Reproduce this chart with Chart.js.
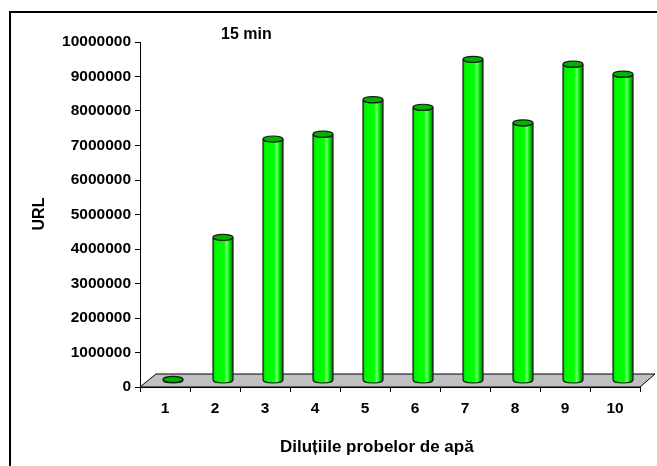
<!DOCTYPE html>
<html>
<head>
<meta charset="utf-8">
<script src="https://cdn.jsdelivr.net/npm/chart.js@4.4.0/dist/chart.umd.min.js"></script>
<style>
  html, body { margin: 0; padding: 0; background: #fff; }
</style>
</head>
<body>
<canvas id="grafic" width="657" height="466"></canvas>
<script>
// date citite pentru 15 min
const dilutii = ['1', '2', '3', '4', '5', '6', '7', '8', '9', '10'];
const valori = [30000, 4150000, 7000000, 7140000, 8140000, 7920000, 9310000, 7470000, 9170000, 8880000];
const ticksURL = [0, 1000000, 2000000, 3000000, 4000000, 5000000, 6000000, 7000000, 8000000, 9000000, 10000000];
const titlu = '15 min';
const titluX = 'Diluțiile probelor de apă';
const titluY = 'URL';

const font = '"Liberation Sans", Arial, sans-serif';
const fontBold = { family: font, size: 15.5, weight: 'bold' };

// podeaua 3D si cilindrii
const cilindri = {
  id: 'cilindri',
  beforeDraw(chart) {
    const ctx = chart.ctx;
    ctx.save();
    ctx.fillStyle = '#fff';
    ctx.fillRect(0, 0, chart.width, chart.height);
    ctx.strokeStyle = '#000';
    ctx.lineWidth = 2;
    ctx.strokeRect(10, 12, 700, 500);
    ctx.restore();
  },
  beforeDatasetsDraw(chart) {
    const ctx = chart.ctx;
    const a = chart.chartArea;
    ctx.save();
    ctx.beginPath();
    ctx.moveTo(a.left, a.bottom);
    ctx.lineTo(a.left + 16, a.bottom - 13);
    ctx.lineTo(a.right + 15, a.bottom - 13);
    ctx.lineTo(a.right, a.bottom);
    ctx.closePath();
    ctx.fillStyle = '#c0c0c0';
    ctx.fill();
    ctx.strokeStyle = '#000';
    ctx.lineWidth = 1;
    ctx.stroke();
    ctx.restore();
    // barele stau la mijlocul adancimii
    ctx.save();
    ctx.translate(8, -6.5);
  },
  afterDatasetsDraw(chart) {
    const ctx = chart.ctx;
    chart.getDatasetMeta(0).data.forEach(bar => {
      const { x, y, base, width } = bar.getProps(['x', 'y', 'base', 'width'], true);
      const l = x - width / 2, r = x + width / 2, rx = width / 2, ry = 3;
      const g = ctx.createLinearGradient(l, 0, r, 0);
      g.addColorStop(0, '#00c000');
      g.addColorStop(0.12, '#00f800');
      g.addColorStop(0.55, '#00ff00');
      g.addColorStop(0.7, '#70ff70');
      g.addColorStop(0.8, '#00f800');
      g.addColorStop(0.92, '#00a800');
      g.addColorStop(1, '#404040');

      ctx.beginPath();
      ctx.moveTo(l, y);
      ctx.lineTo(l, base);
      ctx.ellipse(x, base, rx, ry, 0, Math.PI, 0, true);
      ctx.lineTo(r, y);
      ctx.ellipse(x, y, rx, ry, 0, 0, Math.PI, false);
      ctx.closePath();
      ctx.fillStyle = g;
      ctx.fill();
      ctx.strokeStyle = '#142014';
      ctx.lineWidth = 1.2;
      ctx.stroke();

      ctx.beginPath();
      ctx.ellipse(x, y, rx, ry, 0, 0, Math.PI * 2);
      ctx.fillStyle = '#00b400';
      ctx.fill();
      ctx.stroke();
    });
    ctx.restore();
  },
  afterDraw(chart) {
    const ctx = chart.ctx;
    ctx.save();
    ctx.fillStyle = '#000';
    ctx.font = 'bold 16px ' + font;
    ctx.textBaseline = 'middle';
    ctx.textAlign = 'left';
    ctx.fillText(titlu, 221, 35);
    ctx.font = 'bold 17px ' + font;
    ctx.fillText(titluX, 280, 447);
    ctx.font = 'bold 16px ' + font;
    ctx.translate(40, 214);
    ctx.rotate(-Math.PI / 2);
    ctx.textAlign = 'center';
    ctx.fillText(titluY, 0, 0);
    ctx.restore();
  }
};

new Chart(document.getElementById('grafic'), {
  type: 'bar',
  data: {
    labels: dilutii,
    datasets: [{
      label: titlu,
      data: valori,
      backgroundColor: '#00ff00',
      borderWidth: 0,
      barPercentage: 0.4,
      categoryPercentage: 1
    }]
  },
  options: {
    responsive: false,
    animation: false,
    devicePixelRatio: 1,
    layout: { padding: { left: 10, top: 42, right: 17, bottom: 0 } },
    plugins: {
      legend: { display: false },
      tooltip: { enabled: false }
    },
    scales: {
      x: {
        afterFit: s => { s.height = 79; },
        grid: { offset: true, drawOnChartArea: false, tickLength: 5, color: '#000' },
        border: { color: '#000' },
        ticks: { color: '#000', font: fontBold, padding: 7, maxRotation: 0, autoSkip: false }
      },
      y: {
        min: 0,
        max: 10000000,
        afterFit: s => { s.width = 130; },
        afterBuildTicks: s => { s.ticks = ticksURL.map(v => ({ value: v })); },
        grid: { drawOnChartArea: false, tickLength: 5, color: '#000' },
        border: { color: '#000' },
        ticks: { color: '#000', font: fontBold, padding: 4, callback: v => String(v) }
      }
    }
  },
  plugins: [cilindri]
});
</script>
</body>
</html>
